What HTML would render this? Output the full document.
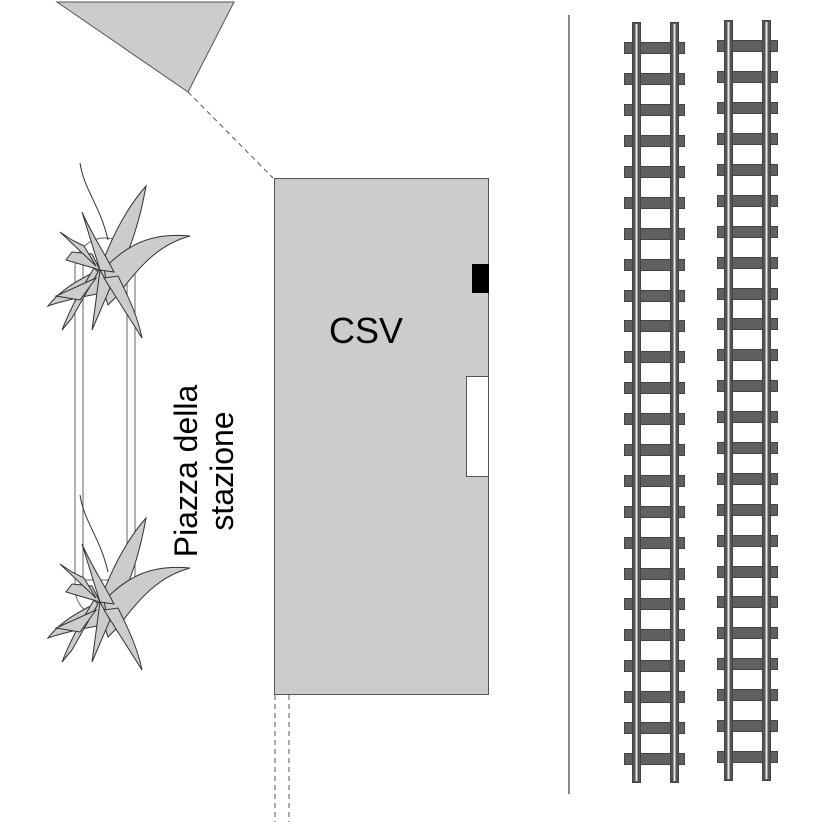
<!DOCTYPE html>
<html><head><meta charset="utf-8"><style>html,body{margin:0;padding:0;background:#fff}svg{display:block}</style></head>
<body>
<svg width="827" height="827" viewBox="0 0 827 827" xmlns="http://www.w3.org/2000/svg">
<defs>
<g id="plant" stroke="#333" stroke-width="1" fill="#ccc">
  <path d="M80,163 C84,190 100,205 108,240" fill="none"/>
  <path d="M96,280 C110,240 125,210 146,186 C140,220 132,245 116,280 Z"/>
  <path d="M98,275 C125,245 150,232 190,236 C160,244 140,265 118,295 L108,305 Z"/>
  <path d="M104,268 C80,278 60,290 48,306 C65,300 85,296 108,292 Z"/>
  <path d="M100,270 L66,260 L72,252 L92,254 Z"/>
  <path d="M100,270 L92,330 L110,288 Z"/>
  <path d="M104,278 L142,338 C138,318 130,300 118,276 Z"/>
  <path d="M96,266 L60,232 L72,240 L84,246 Z"/>
  <path d="M100,270 L82,212 C92,235 100,245 114,272 Z"/>
  <path d="M98,272 L72,318 L62,330 C74,300 84,285 94,268 Z"/>
  <path d="M96,278 L56,296 L80,300 Z"/>
</g>
<g id="sleepers">
<rect x="624.5" y="42.5" width="60" height="11"/><rect x="624.5" y="73.5" width="60" height="11"/><rect x="624.5" y="104.5" width="60" height="11"/><rect x="624.5" y="135.5" width="60" height="11"/><rect x="624.5" y="166.5" width="60" height="11"/><rect x="624.5" y="197.5" width="60" height="11"/><rect x="624.5" y="228.5" width="60" height="11"/><rect x="624.5" y="259.5" width="60" height="11"/><rect x="624.5" y="290.5" width="60" height="11"/><rect x="624.5" y="320.5" width="60" height="11"/><rect x="624.5" y="351.5" width="60" height="11"/><rect x="624.5" y="382.5" width="60" height="11"/><rect x="624.5" y="413.5" width="60" height="11"/><rect x="624.5" y="444.5" width="60" height="11"/><rect x="624.5" y="475.5" width="60" height="11"/><rect x="624.5" y="506.5" width="60" height="11"/><rect x="624.5" y="537.5" width="60" height="11"/><rect x="624.5" y="568.5" width="60" height="11"/><rect x="624.5" y="598.5" width="60" height="11"/><rect x="624.5" y="629.5" width="60" height="11"/><rect x="624.5" y="660.5" width="60" height="11"/><rect x="624.5" y="691.5" width="60" height="11"/><rect x="624.5" y="722.5" width="60" height="11"/><rect x="624.5" y="753.5" width="60" height="11"/>
</g>
</defs>
<polygon points="57,2 234,2 188,92" fill="#ccc" stroke="#555" stroke-width="1"/>
<line x1="188" y1="92" x2="273" y2="178" stroke="#555" stroke-dasharray="5,4"/>
<rect x="75" y="238" width="60" height="380" rx="30" ry="30" fill="none" stroke="#666"/>
<rect x="83" y="265" width="44" height="315" fill="none" stroke="#666"/>
<use href="#plant"/>
<use href="#plant" transform="translate(0,332)"/>
<rect x="274.5" y="178.5" width="214" height="516" fill="#ccc" stroke="#555"/>
<rect x="472" y="264" width="17" height="29" fill="#000"/>
<rect x="466.5" y="376.5" width="22" height="100" fill="#fff" stroke="#555"/>
<text x="366" y="343" font-family="Liberation Sans, sans-serif" font-size="36" text-anchor="middle" fill="#000">CSV</text>
<line x1="275" y1="695" x2="275" y2="822" stroke="#555" stroke-dasharray="5,4"/>
<line x1="289" y1="695" x2="289" y2="822" stroke="#555" stroke-dasharray="5,4"/>
<g transform="translate(197,471) rotate(-90)" font-family="Liberation Sans, sans-serif" font-size="32" text-anchor="middle" fill="#000">
  <text x="0" y="0">Piazza della</text>
  <text x="0" y="36">stazione</text>
</g>
<line x1="569" y1="15" x2="569" y2="794" stroke="#888" stroke-width="2"/>
<g fill="#606060" stroke="#444">
<use href="#sleepers"/>
<use href="#sleepers" transform="translate(93,-2)"/>
</g>
<g fill="#555" stroke="#444" stroke-width="1">
<rect x="632.5" y="22.5" width="8" height="760"/>
<rect x="670.5" y="22.5" width="8" height="760"/>
<rect x="724.5" y="20.5" width="8" height="760"/>
<rect x="762.5" y="20.5" width="8" height="760"/>
</g>
<g stroke="#e8e8e8" stroke-width="2">
<line x1="636.5" y1="24" x2="636.5" y2="781"/>
<line x1="674.5" y1="24" x2="674.5" y2="781"/>
<line x1="728.5" y1="22" x2="728.5" y2="779"/>
<line x1="766.5" y1="22" x2="766.5" y2="779"/>
</g>
</svg>
</body></html>
